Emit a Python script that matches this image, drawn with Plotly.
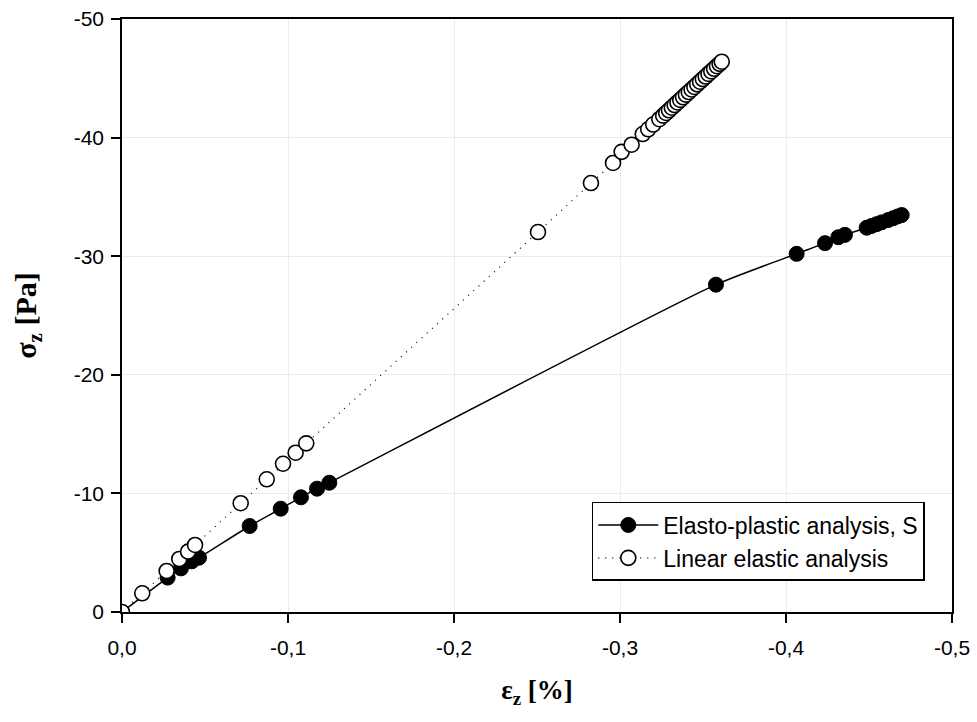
import plotly.graph_objects as go

# Elasto-plastic analysis, S
ep_strain = [0.0, -0.0275, -0.0355, -0.042, -0.0464, -0.0769, -0.0956, -0.1078, -0.1175, -0.1249,
             -0.3578, -0.4064, -0.4235, -0.4315, -0.4355, -0.4486, -0.4515, -0.4545, -0.4575,
             -0.4615, -0.4645, -0.4672, -0.4697]
ep_stress = [0.0, -2.9, -3.68, -4.27, -4.58, -7.25, -8.71, -9.67, -10.4, -10.9,
             -27.6, -30.2, -31.1, -31.6, -31.8, -32.4, -32.55, -32.7, -32.85,
             -33.05, -33.2, -33.35, -33.47]

# Linear elastic analysis
le_strain = [0.0, -0.0122, -0.0269, -0.0345, -0.0398, -0.044, -0.0715, -0.0872, -0.097, -0.1046,
             -0.111, -0.2506, -0.2825, -0.2958, -0.301, -0.307, -0.3137, -0.317, -0.320, -0.3237,
             -0.326, -0.3278, -0.3295, -0.3312, -0.3329, -0.3346, -0.3363, -0.338, -0.3397,
             -0.3414, -0.3431, -0.3448, -0.3465, -0.3482, -0.3499, -0.3516, -0.3533, -0.355,
             -0.3567, -0.3584, -0.3600, -0.3613]
le_stress = [0.0, -1.58, -3.46, -4.47, -5.09, -5.65, -9.17, -11.19, -12.5, -13.43,
             -14.22, -32.04, -36.17, -37.86, -38.8, -39.4, -40.3, -40.7, -41.1, -41.55,
             -41.85, -42.08, -42.3, -42.52, -42.74, -42.96, -43.18, -43.4, -43.62,
             -43.84, -44.06, -44.27, -44.49, -44.71, -44.93, -45.15, -45.37, -45.58,
             -45.8, -46.02, -46.22, -46.4]

x_ticks = [0.0, -0.1, -0.2, -0.3, -0.4, -0.5]
x_ticktext = ["0,0", "-0,1", "-0,2", "-0,3", "-0,4", "-0,5"]
y_ticks = [0, -10, -20, -30, -40, -50]
y_ticktext = ["0", "-10", "-20", "-30", "-40", "-50"]

fig = go.Figure()
fig.add_trace(go.Scatter(
    x=ep_strain, y=ep_stress, mode="lines+markers", name="Elasto-plastic analysis, S",
    line=dict(color="black", width=1.5, shape="spline", smoothing=0.6),
    marker=dict(symbol="circle", size=15, color="black", line=dict(color="black", width=1)),
))
fig.add_trace(go.Scatter(
    x=le_strain, y=le_stress, mode="lines+markers", name="Linear elastic analysis",
    line=dict(color="black", width=1.2, dash="1px,6px"),
    marker=dict(symbol="circle", size=15, color="white", line=dict(color="black", width=1.6)),
))

axis_common = dict(
    showline=True, linecolor="black", linewidth=1.5, mirror=True,
    ticks="outside", ticklen=9, tickwidth=1.5, tickcolor="black",
    showgrid=True, gridcolor="#ebebeb", gridwidth=1, zeroline=False,
    tickfont=dict(family="Liberation Sans", size=21, color="black"),
    automargin=False,
)

fig.update_xaxes(
    range=[0, -0.5], tickvals=x_ticks, ticktext=x_ticktext, ticklabelstandoff=7,
    title=dict(text="<b>ε<sub>z</sub> [%]</b>", font=dict(family="Liberation Serif", size=27, color="black"), standoff=22),
    **axis_common,
)
fig.update_yaxes(
    range=[0, -50], tickvals=y_ticks, ticktext=y_ticktext, ticklabelstandoff=3,
    title=dict(text="<b>σ<sub>z</sub> [Pa]</b>", font=dict(family="Liberation Serif", size=30, color="black"), standoff=28),
    **axis_common,
)

fig.update_layout(
    width=977, height=722,
    margin=dict(l=122, r=25, t=19, b=110),
    plot_bgcolor="white", paper_bgcolor="white",
    showlegend=True,
    legend=dict(
        x=0.566, y=0.1855, xanchor="left", yanchor="top",
        bordercolor="black", borderwidth=1.5, bgcolor="white",
        font=dict(family="Liberation Sans", size=23, color="black"),
        itemwidth=60, tracegroupgap=0,
    ),
)

fig.write_html("out.html")
